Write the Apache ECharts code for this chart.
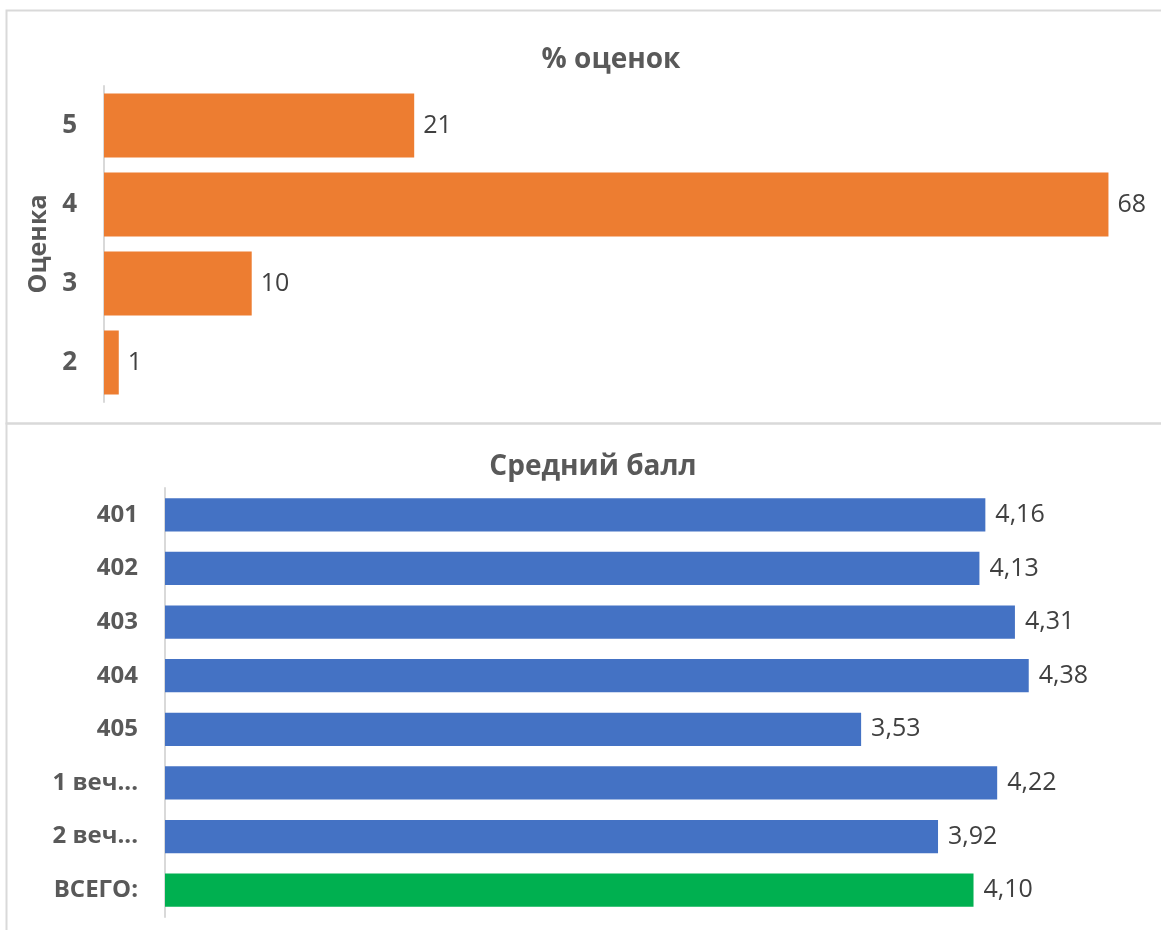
<!DOCTYPE html>
<html>
<head>
<meta charset="utf-8">
<script src="https://cdn.jsdelivr.net/npm/echarts@6/dist/echarts.min.js"></script>
<style>
  html, body { margin: 0; padding: 0; background: #fff; }
  #chart { width: 1161px; height: 930px; }
</style>
</head>
<body>
<div id="chart"></div>
<script>
  // % оценок
  const gradeLabels = ['5', '4', '3', '2'];
  const gradePercents = [21, 68, 10, 1];
  // Средний балл
  const groupLabels = ['401', '402', '403', '404', '405', '1 веч...', '2 веч...', 'ВСЕГО:'];
  const groupScores = [4.16, 4.13, 4.31, 4.38, 3.53, 4.22, 3.92, 4.10];

  const FONT = '"Open Sans", "Noto Sans", sans-serif';
  const labelGray = '#595959';
  const valueGray = '#404040';
  const borderGray = '#D9D9D9';

  const chart = echarts.init(document.getElementById('chart'));

  // последняя строка (ВСЕГО) зелёная
  const scoreData = groupScores.map((v, i) => ({
    value: v,
    itemStyle: { color: i === groupScores.length - 1 ? '#00B050' : '#4472C4' }
  }));

  const option = {
    animation: false,
    textStyle: { fontFamily: FONT },
    graphic: [
      { type: 'rect', shape: { x: 6.5, y: 10.5, width: 1200, height: 413 },
        style: { fill: 'none', stroke: borderGray, lineWidth: 2 } },
      { type: 'rect', shape: { x: 6.5, y: 423.5, width: 1200, height: 600 },
        style: { fill: 'none', stroke: borderGray, lineWidth: 2 } }
    ],
    title: [
      { text: '% оценок', left: 606, top: 41, textAlign: 'center',
        textStyle: { fontFamily: FONT, fontSize: 28, fontWeight: 'bold', color: labelGray } },
      { text: 'Средний балл', left: 588, top: 448, textAlign: 'center',
        textStyle: { fontFamily: FONT, fontSize: 28, fontWeight: 'bold', color: labelGray } }
    ],
    grid: [
      { left: 104, top: 86, width: 1034, height: 316 },
      { left: 165, top: 488, width: 986, height: 429 }
    ],
    xAxis: [
      { gridIndex: 0, type: 'value', min: 0, max: 70, show: false },
      { gridIndex: 1, type: 'value', min: 0, max: 5, show: false }
    ],
    yAxis: [
      {
        gridIndex: 0, type: 'category', data: gradeLabels, inverse: true,
        name: 'Оценка', nameLocation: 'middle', nameRotate: 90, nameGap: 52,
        nameTextStyle: { fontFamily: FONT, fontSize: 25, fontWeight: 'bold', color: labelGray },
        axisLine: { lineStyle: { color: borderGray, width: 2 } },
        axisTick: { show: false },
        axisLabel: { margin: 27, fontFamily: FONT, fontSize: 26, fontWeight: 'bold', color: labelGray }
      },
      {
        gridIndex: 1, type: 'category', data: groupLabels, inverse: true,
        axisLine: { lineStyle: { color: borderGray, width: 2 } },
        axisTick: { show: false },
        axisLabel: { margin: 27, fontFamily: FONT, fontSize: 24, fontWeight: 'bold', color: labelGray }
      }
    ],
    series: [
      {
        type: 'bar', xAxisIndex: 0, yAxisIndex: 0,
        data: gradePercents, barCategoryGap: '19%',
        itemStyle: { color: '#ED7D31' },
        label: { show: true, position: 'right', distance: 9,
          fontFamily: FONT, fontSize: 25, color: valueGray }
      },
      {
        type: 'bar', xAxisIndex: 1, yAxisIndex: 1,
        data: scoreData, barCategoryGap: '38%',
        label: { show: true, position: 'right', distance: 10,
          fontFamily: FONT, fontSize: 25, color: valueGray,
          formatter: p => p.value.toFixed(2).replace('.', ',') }
      }
    ]
  };

  chart.setOption(option);
</script>
</body>
</html>
